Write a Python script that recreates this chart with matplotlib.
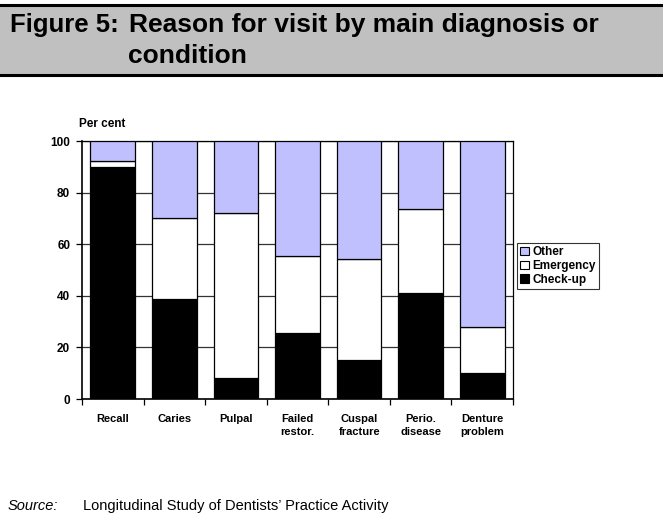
import numpy as np
import matplotlib.pyplot as plt
from matplotlib.patches import Rectangle, Patch

plt.rcParams['font.family'] = ['Liberation Sans', 'DejaVu Sans']

categories = ["Recall", "Caries", "Pulpal", "Failed\nrestor.", "Cuspal\nfracture",
              "Perio.\ndisease", "Denture\nproblem"]
checkup = [90.0, 38.8, 8.0, 25.6, 15.2, 41.1, 10.2]
emergency = [2.2, 31.2, 64.1, 29.8, 39.1, 32.4, 17.7]
other = [7.8, 30.0, 27.9, 44.6, 45.7, 26.5, 72.1]

W, H = 663, 518
fig = plt.figure(figsize=(W / 100, H / 100), dpi=100)

# title banner
fig.patches.append(Rectangle((0, 1 - 75 / H), 1, 70 / H, transform=fig.transFigure,
                             facecolor='#c0c0c0', edgecolor='none', zorder=0))
fig.add_artist(plt.Line2D([0, 1], [1 - 5 / H, 1 - 5 / H], color='black', lw=2.2,
                          transform=fig.transFigure))
fig.add_artist(plt.Line2D([0, 1], [1 - 75 / H, 1 - 75 / H], color='black', lw=2.2,
                          transform=fig.transFigure))
fig.text(10 / W, 1 - 32 / H, "Figure 5:", fontsize=18.5, fontweight='bold', va='baseline')
fig.text(129 / W, 1 - 32 / H, "Reason for visit by main diagnosis or",
         fontsize=19, fontweight='bold', va='baseline')
fig.text(128 / W, 1 - 63 / H, "condition", fontsize=19, fontweight='bold', va='baseline')

ax = fig.add_axes([82 / W, (H - 399) / H, 431 / W, 258 / H])
x = np.arange(len(categories))
bw = 0.725
kw = dict(width=bw, edgecolor='black', linewidth=0.9, zorder=3)
ax.bar(x, checkup, color='black', **kw)
ax.bar(x, emergency, bottom=checkup, color='white', **kw)
ax.bar(x, other, bottom=np.add(checkup, emergency), color='#c0c0ff', **kw)

ax.set_xlim(-0.5, len(categories) - 0.5)
ax.set_ylim(0, 100)
ax.set_yticks(range(0, 101, 20))
ax.set_yticklabels([str(v) for v in range(0, 101, 20)], fontsize=8.5, fontweight='bold')
ax.yaxis.grid(True, color='#333333', lw=0.9, zorder=0)
ax.set_xticks(x)
ax.set_xticklabels(categories, fontsize=8, fontweight='bold', linespacing=1.3)
ax.tick_params(axis='x', which='major', length=0, pad=11)
ax.set_xticks(np.arange(-0.5, len(categories)), minor=True)
ax.tick_params(axis='x', which='minor', length=4.5, width=0.9, direction='out')
ax.tick_params(axis='y', length=4.5, width=0.9, direction='out', pad=4)
for s in ['left', 'bottom']:
    ax.spines[s].set_linewidth(1.2)
ax.spines['right'].set_linewidth(0.9)
ax.spines['top'].set_linewidth(0.9)

fig.text(79 / W, 1 - 127 / H, "Per cent", fontsize=8.5, fontweight='bold', va='baseline')

handles = [Patch(facecolor='#c0c0ff', edgecolor='black', lw=0.8),
           Patch(facecolor='white', edgecolor='black', lw=0.8),
           Patch(facecolor='black', edgecolor='black', lw=0.8)]
leg = fig.legend(handles, ["Other", "Emergency", "Check-up"], loc='center left',
                 bbox_to_anchor=(517 / W, 1 - 266 / H), prop={'size': 8.5, 'weight': 'bold'},
                 frameon=True, fancybox=False, handlelength=0.75, handleheight=0.75,
                 handletextpad=0.3, borderpad=0.25, labelspacing=0.15, borderaxespad=0)
leg.get_frame().set_edgecolor('black')
leg.get_frame().set_linewidth(0.8)

fig.text(8 / W, 1 - 510 / H, "Source:", fontsize=10.5, style='italic', va='baseline')
fig.text(83 / W, 1 - 510 / H, "Longitudinal Study of Dentists\u2019 Practice Activity",
         fontsize=10.5, va='baseline')

fig.savefig('out.png', dpi=100)
